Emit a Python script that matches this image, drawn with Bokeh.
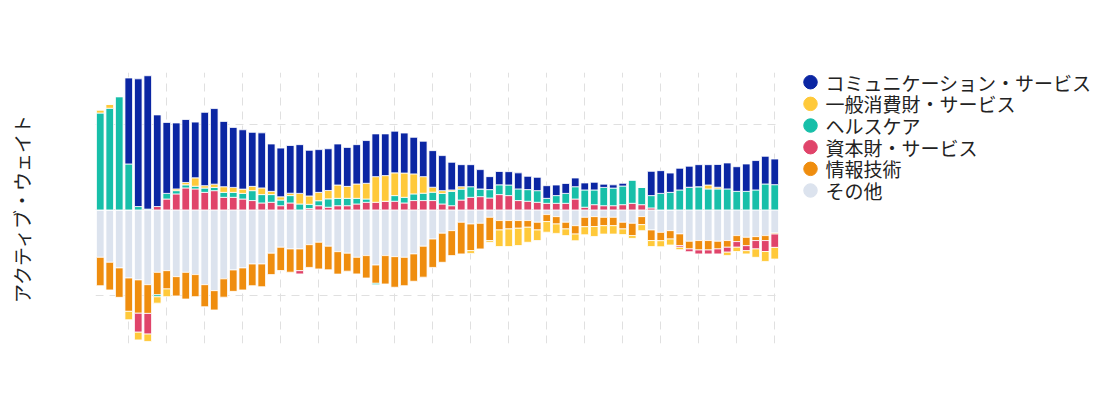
import numpy as np
from bokeh.plotting import figure
from bokeh.layouts import row
from bokeh.models import FixedTicker, Range1d
from bokeh.core.properties import value
from bokeh.embed import file_html
from bokeh.resources import INLINE

# 72 monthly observations (index 0..71), active weights in %
months = list(range(72))

comm = [0, 0, 0, 5.03, 7.47, 7.8, 5.36, 4.15, 3.86, 3.68,
        3.26, 4.29, 4.42, 3.82, 3.51, 3.47, 3.16, 3.22, 2.77, 2.85,
        2.79, 2.85, 2.67, 2.5, 2.44, 2.4, 2.28, 2.3, 2.5, 2.5,
        2.44, 2.44, 2.34, 2.14, 2.07, 2.14, 2.05, 1.62, 1.29, 1.29,
        1.13, 0.76, 0.78, 0.78, 0.94, 0.78, 0.78, 0.74, 0.62, 0.58,
        0.51, 0.41, 0.45, 0.19, 0.19, 0.16, 0, 0, 1.42, 1.33,
        1.13, 1.27, 1.23, 1.29, 1.19, 1.33, 1.52, 1.44, 1.6, 1.72,
        1.62, 1.5]
cons = [0.18, 0.23, 0, -0.49, -0.45, -0.43, -0.37, -0.45, 0.1, 0.14,
        0.49, 0.14, 0.19, 0.33, 0.29, 0.25, 0.25, 0.39, 0.19, 0.19,
        0.14, 0.62, 0.49, 0.49, 0.49, 0.78, 0.7, 0.84, 0.92, 1.5,
        1.5, 1.33, 1.42, 1.17, 0.97, 0.29, 0.16, 0.08, 0.14, -0.16,
        0, -0.1, -0.97, -1.03, -1.01, -0.88, -0.62, -0.62, -0.55, -0.39,
        -0.39, -0.47, -0.58, -0.49, -0.49, -0.33, -0.16, -0.35, -0.35, -0.35,
        -0.35, -0.14, 0, 0, 0.23, 0.1, -0.19, -0.25, -0.19, -0.49,
        -0.58, -0.68]
health = [5.67, 5.95, 6.63, 2.69, 0.2, 0.05, -0.12, 0.33, 0.19, 0.18,
          0.16, 0.25, 0.19, 0.29, 0.29, 0.33, 0.58, 0.49, 0.45, 0.33,
          0.43, 0.35, 0.25, 0.29, 0.49, 0.43, 0.43, 0.33, 0.19, -0.08,
          0, 0.33, 0.33, 0.39, 0.43, 0.49, 0.62, 0.84, 0.64, 0.62,
          0.45, 0.49, 0.57, 0.62, 0.68, 0.68, 0.68, 0.29, 0.45, 0.58,
          0.72, 1.01, 0.86, 1.07, 1.03, 1.09, 1.36, 1.01, 0.72, 0.97,
          1.03, 1.17, 1.33, 1.36, 1.23, 1.23, 1.23, 1.09, 1.09, 1.17,
          1.52, 1.48]
capital = [0, 0, 0, 0, -1.11, -1.21, 0.2, 0.64, 0.94, 1.29,
           1.23, 1.03, 1.13, 0.74, 0.74, 0.64, 0.55, 0.41, 0.45, 0.25,
           0.41, -0.19, 0.08, 0.25, 0.16, 0.25, 0.25, 0.35, 0.45, 0.45,
           0.51, 0.51, 0.41, 0.55, 0.55, 0.55, 0.35, 0.25, 0.58, 0.74,
           0.78, 0.7, 0.9, 0.84, 0.55, 0.51, 0.45, 0.39, 0.39, 0.39,
           0.64, 0.16, 0.31, 0.25, 0.25, 0.31, 0.39, 0.31, 0.12, 0,
           0, -0.1, -0.16, -0.23, -0.23, -0.29, -0.29, -0.33, -0.29, -0.49,
           -0.64, -0.78]
infotech = [-1.66, -1.62, -1.72, -1.95, -1.95, -1.68, -1.31, -1.07, -1.13, -1.56,
            -1.29, -1.29, -1.13, -1.07, -1.25, -1.29, -1.27, -1.33, -1.25, -1.36,
            -1.36, -1.27, -1.33, -1.56, -1.38, -1.31, -1.05, -0.97, -1.31, -1.07,
            -1.66, -1.79, -1.66, -1.6, -1.81, -1.66, -1.7, -1.46, -1.85, -1.56,
            -1.5, -1.36, -0.55, -0.49, -0.45, -0.39, -0.45, -0.41, -0.43, -0.39,
            -0.49, -0.55, -0.58, -0.49, -0.49, -0.39, -0.72, -0.47, -0.62, -0.49,
            -0.49, -0.68, -0.45, -0.55, -0.55, -0.45, -0.39, -0.35, -0.49, -0.23,
            -0.29, -0.06]
other = [-2.77, -3.06, -3.39, -3.98, -4.09, -4.37, -3.65, -3.55, -3.9, -3.65,
         -3.78, -4.37, -4.72, -4.03, -3.51, -3.39, -3.16, -3.16, -2.53, -2.18,
         -2.28, -2.28, -2.03, -1.89, -2.12, -2.44, -2.53, -2.77, -2.67, -3.22,
         -2.67, -2.73, -2.77, -2.57, -2.12, -1.7, -1.36, -1.21, -0.72, -0.82,
         -0.78, -0.43, -0.62, -0.62, -0.62, -0.62, -0.72, -0.27, -0.39, -0.72,
         -0.92, -0.43, -0.39, -0.43, -0.43, -0.72, -0.78, -0.39, -1.17, -1.31,
         -1.21, -1.4, -1.83, -1.79, -1.79, -1.83, -1.79, -1.5, -1.6, -1.56,
         -1.5, -1.35]

# stacking order from the zero line outward
stack = [
    ("その他", other, "#DCE3EE"),
    ("情報技術", infotech, "#EF8D0E"),
    ("資本財・サービス", capital, "#E0446A"),
    ("ヘルスケア", health, "#17BFA9"),
    ("一般消費財・サービス", cons, "#FFC93A"),
    ("コミュニケーション・サービス", comm, "#0B26A3"),
]
legend_order = list(reversed(stack))

FONT = "Noto Sans CJK JP"
H = 390
TOP, BOT = 72, 343

p = figure(width=779, height=H, output_backend="svg", toolbar_location=None,
           x_range=Range1d(-0.5, 71.5), y_range=Range1d(-7.81, 8.04),
           min_border_left=95, min_border_right=0, min_border_top=TOP,
           min_border_bottom=H - BOT)
p.outline_line_color = None
p.background_fill_color = "white"
p.border_fill_color = "white"

p.xaxis.visible = False
p.yaxis.ticker = FixedTicker(ticks=[])
p.yaxis.axis_line_color = None
p.yaxis.major_tick_line_color = None
p.yaxis.minor_tick_line_color = None
p.yaxis.axis_label = "アクティブ・ウェイト"
p.yaxis.axis_label_text_font = FONT
p.yaxis.axis_label_text_font_size = "19px"
p.yaxis.axis_label_text_font_style = "normal"
p.yaxis.axis_label_text_color = "#222222"
p.yaxis.axis_label_standoff = 61

p.xgrid.ticker = FixedTicker(ticks=list(range(3, 72, 4)))
p.ygrid.ticker = FixedTicker(ticks=[-5, 0, 5])
for g in (p.xgrid, p.ygrid):
    g.grid_line_color = "#e0e0e0"
    g.grid_line_dash = "8 6"
    g.grid_line_width = 1

x = np.array(months, dtype=float)
pos = np.zeros(len(months))
neg = np.zeros(len(months))
for name, vals, color in stack:
    v = np.array(vals, dtype=float)
    bottom = np.where(v >= 0, pos, neg)
    top = bottom + v
    pos = np.where(v >= 0, top, pos)
    neg = np.where(v < 0, top, neg)
    p.vbar(x=x, bottom=bottom, top=top, width=0.8, fill_color=color,
           line_color="white", line_width=0.8)

# legend panel: frame aligned with the main plot, y in page pixels (downward)
LW = 317
lg = figure(width=LW, height=H, output_backend="svg", toolbar_location=None,
            x_range=Range1d(0, LW), y_range=Range1d(BOT, TOP),
            min_border_left=0, min_border_right=0, min_border_top=TOP,
            min_border_bottom=H - BOT)
lg.axis.visible = False
lg.grid.visible = False
lg.outline_line_color = None
row0, pitch = 81.7, 21.66
ly = [row0 + i * pitch for i in range(len(legend_order))]
names = [s[0] for s in legend_order]
cols = [s[2] for s in legend_order]
lg.scatter(x=[31] * len(ly), y=ly, size=13.5, marker="circle",
           fill_color=cols, line_color=cols)
lg.text(x=[46] * len(ly), y=ly, text=names, text_font=value(FONT),
        text_font_size="19px", text_baseline="middle", text_align="left",
        text_color="#222222")

layout = row(p, lg)
open("out.html", "w").write(file_html(layout, INLINE))
